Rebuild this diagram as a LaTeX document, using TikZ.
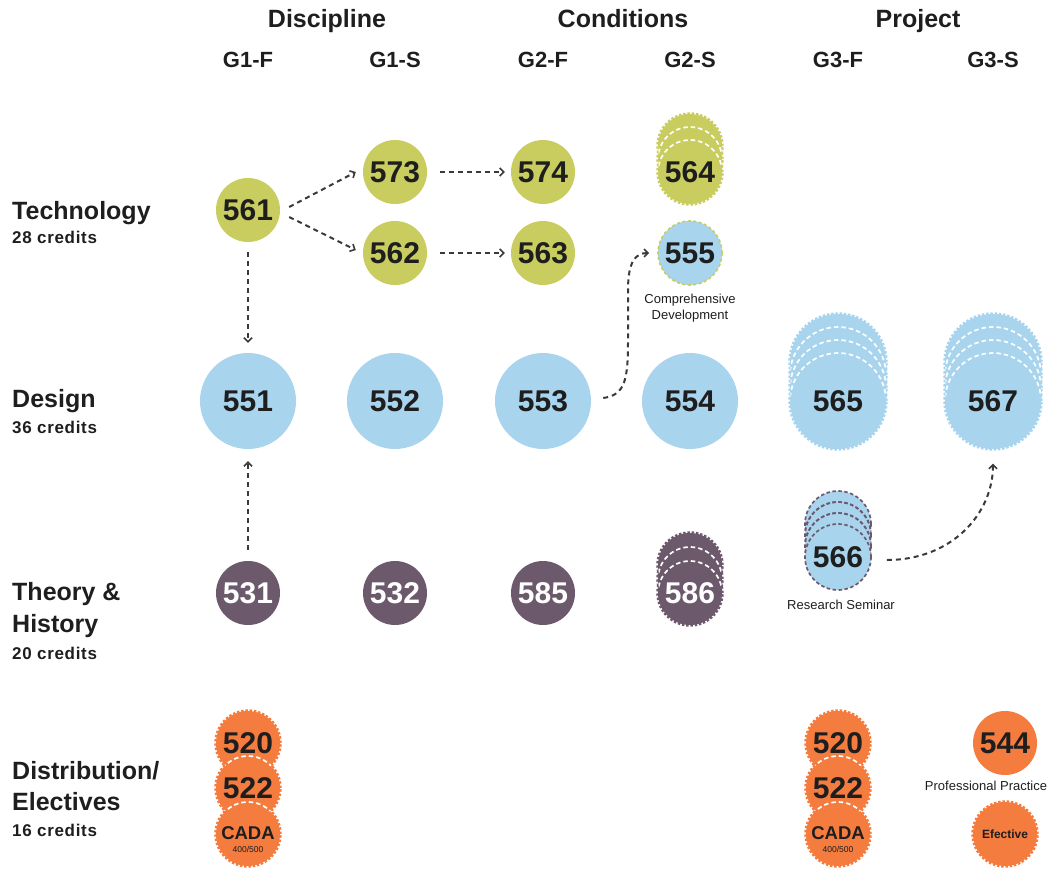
\documentclass[tikz,border=0pt]{standalone}
\usepackage{fontspec}
\setmainfont{Liberation Sans}
\usetikzlibrary{arrows.meta,calc}

\definecolor{tech}{HTML}{C9CD5F}
\definecolor{desg}{HTML}{A8D4EE}
\definecolor{hist}{HTML}{6C5A6C}
\definecolor{dist}{HTML}{F47C3F}
\definecolor{ink}{HTML}{1E1E1E}
\definecolor{wire}{HTML}{3A3A3A}

% back circles of a stack: x, front y, radius, count, step, circle style, arc style
\newcommand\backstack[7]{%
  \foreach \k in {#4,...,1}{%
    \pgfmathsetmacro\yk{#2-\k*#5}%
    \pgfmathsetmacro\yp{#2-(\k+1)*#5}%
    \path[#6] (#1,\yk) circle[radius=#3pt];%
    \ifnum\k<#4\relax
      \begin{scope}\clip (#1,\yp) circle[radius=#3pt];\draw[#7] (#1,\yk) circle[radius=#3pt];\end{scope}%
    \fi
  }%
}
% upper rim of a front circle, seen inside the circle behind it
\newcommand\rimarc[5]{%
  \begin{scope}\clip (#1,#2-#4) circle[radius=#3pt];\draw[#5] (#1,#2) circle[radius=#3pt];\end{scope}%
}

\begin{document}
\begin{tikzpicture}[x=1pt,y=-1pt,
  num/.style={circle, inner sep=0pt, text=ink, font=\fontsize{30}{30}\selectfont\bfseries},
  small/.style={num, minimum size=64pt},
  large/.style={num, minimum size=96pt},
  orng/.style={num, minimum size=64pt, fill=dist, draw=dist, scallop},
  scallop/.style={line width=3.4pt, dash pattern=on 2.4pt off 1.8pt},
  warc/.style={draw=white, line width=1.7pt, dash pattern=on 4.5pt off 3pt},
  pdash/.style={draw=hist, line width=1.7pt, dash pattern=on 3.5pt off 2.5pt},
  head/.style={anchor=base, inner sep=0pt, text=ink, font=\fontsize{25}{25}\selectfont\bfseries},
  col/.style={anchor=base, inner sep=0pt, text=ink, font=\fontsize{22}{22}\selectfont\bfseries},
  row/.style={anchor=base west, inner sep=0pt, text=ink, font=\fontsize{25}{25}\selectfont\bfseries},
  cred/.style={anchor=base west, inner sep=0pt, text=ink,
    font=\fontsize{17}{17}\selectfont\bfseries\addfontfeatures{LetterSpace=4}},
  note/.style={text=ink, inner sep=0pt, font=\fontsize{13}{13}\selectfont},
  conn/.style={draw=wire, line width=2pt, dash pattern=on 5pt off 4pt,
    -{Straight Barb[length=4pt,width=8pt,line width=1.6pt]}}
]
\useasboundingbox (0,0) rectangle (1049,869);

% column headings
\node[head] (hdisc) at (327,28) {Discipline};
\node[head] (hcond) at (623,28) {Conditions};
\node[head] (hproj) at (918,28) {Project};
\node[col] (c1f) at (248,68) {G1-F};
\node[col] (c1s) at (395,68) {G1-S};
\node[col] (c2f) at (543,68) {G2-F};
\node[col] (c2s) at (690,68) {G2-S};
\node[col] (c3f) at (838,68) {G3-F};
\node[col] (c3s) at (993,68) {G3-S};

% row headings
\node[row] (rtech) at (12,219) {Technology};
\node[cred] (ktech) at (12,243) {28 credits};
\node[row] (rdes) at (12,407) {Design};
\node[cred] (kdes) at (12,433) {36 credits};
\node[row] (rth1) at (12,600) {Theory \&};
\node[row] (rth2) at (12,632) {History};
\node[cred] (kth) at (12,659) {20 credits};
\node[row] (rdi1) at (12,779) {Distribution/};
\node[row] (rdi2) at (12,810) {Electives};
\node[cred] (kdi) at (12,836) {16 credits};

% technology
\node[small, fill=tech] (n561) at (248,210) {561};
\node[small, fill=tech] (n573) at (395,172) {573};
\node[small, fill=tech] (n562) at (395,253) {562};
\node[small, fill=tech] (n574) at (543,172) {574};
\node[small, fill=tech] (n563) at (543,253) {563};
\backstack{690}{172}{32}{2}{13}{fill=tech, draw=tech, scallop}{warc}
\node[small, fill=tech, draw=tech, scallop] (n564) at (690,172) {564};
\rimarc{690}{172}{32}{13}{warc}
\node[small, fill=desg, draw=tech, line width=1.6pt, dash pattern=on 3pt off 2.5pt] (n555) at (690,253) {555};
\node[note, align=center] (l555) at (690,308) {Comprehensive\\[3pt]Development};

% design
\node[large, fill=desg] (n551) at (248,401) {551};
\node[large, fill=desg] (n552) at (395,401) {552};
\node[large, fill=desg] (n553) at (543,401) {553};
\node[large, fill=desg] (n554) at (690,401) {554};
\backstack{838}{401}{48}{3}{13}{fill=desg, draw=desg, scallop}{warc}
\node[large, fill=desg, draw=desg, scallop] (n565) at (838,401) {565};
\rimarc{838}{401}{48}{13}{warc}
\backstack{993}{401}{48}{3}{13}{fill=desg, draw=desg, scallop}{warc}
\node[large, fill=desg, draw=desg, scallop] (n567) at (993,401) {567};
\rimarc{993}{401}{48}{13}{warc}
\backstack{838}{557}{33}{3}{11}{fill=desg, pdash}{pdash}
\node[num, minimum size=66pt, fill=desg, pdash] (n566) at (838,557) {566};
\node[note] (l566) at (841,605) {Research Seminar};

% theory & history
\node[small, fill=hist, text=white] (n531) at (248,593) {531};
\node[small, fill=hist, text=white] (n532) at (395,593) {532};
\node[small, fill=hist, text=white] (n585) at (543,593) {585};
\backstack{690}{593}{32}{2}{14}{fill=hist, draw=hist, scallop}{warc}
\node[small, fill=hist, draw=hist, scallop, text=white] (n586) at (690,593) {586};
\rimarc{690}{593}{32}{14}{warc}

% distribution / electives
\foreach \cx/\tag in {248/a, 838/b}{
  \node[orng] (n520\tag) at (\cx,743) {520};
  \node[orng] (n522\tag) at (\cx,788) {522};
  \rimarc{\cx}{788}{32}{45}{warc}
  \node[orng] (ncada\tag) at (\cx,834) {};
  \rimarc{\cx}{834}{32}{46}{warc}
  \node[anchor=base, inner sep=0pt, text=ink, font=\fontsize{18.5}{19}\selectfont\bfseries]
    (tcada\tag) at (\cx,839) {CADA};
  \node[anchor=base, inner sep=0pt, text=ink, font=\fontsize{8.5}{9}\selectfont]
    (scada\tag) at (\cx,852) {400/500};
}
\node[small, fill=dist] (n544) at (1005,743) {544};
\node[note] (l544) at (986,786) {Professional Practice};
\node[orng, font=\fontsize{12}{12}\selectfont\bfseries] (nelec) at (1005,834) {Efective};

% prerequisites
\draw[conn] ($(n561.east)+(9,-3)$) -- ($(n573.west)+(-7,0)$);
\draw[conn] ($(n561.east)+(9,7)$) -- ($(n562.west)+(-7,-3)$);
\draw[conn] ($(n573.east)+(13,0)$) -- ($(n574.west)+(-6,0)$);
\draw[conn] ($(n562.east)+(13,0)$) -- ($(n563.west)+(-6,0)$);
\draw[conn] ($(n561.south)+(0,10)$) -- ($(n551.north)+(0,-10)$);
\draw[conn] ($(n531.north)+(0,-11)$) -- ($(n551.south)+(0,12)$);
\draw[conn] ($(n553.east)+(12,-3)$) .. controls +(22,-3) and +(0,40) .. (628,340)
  -- (628,290) .. controls +(0,-28) and +(-14,0) .. ($(n555.west)+(-8,0)$);
\draw[conn] ($(n566.east)+(15,3)$) .. controls +(65,0) and +(0,50) .. ($(n567.south)+(0,13)$);
\end{tikzpicture}
\end{document}
